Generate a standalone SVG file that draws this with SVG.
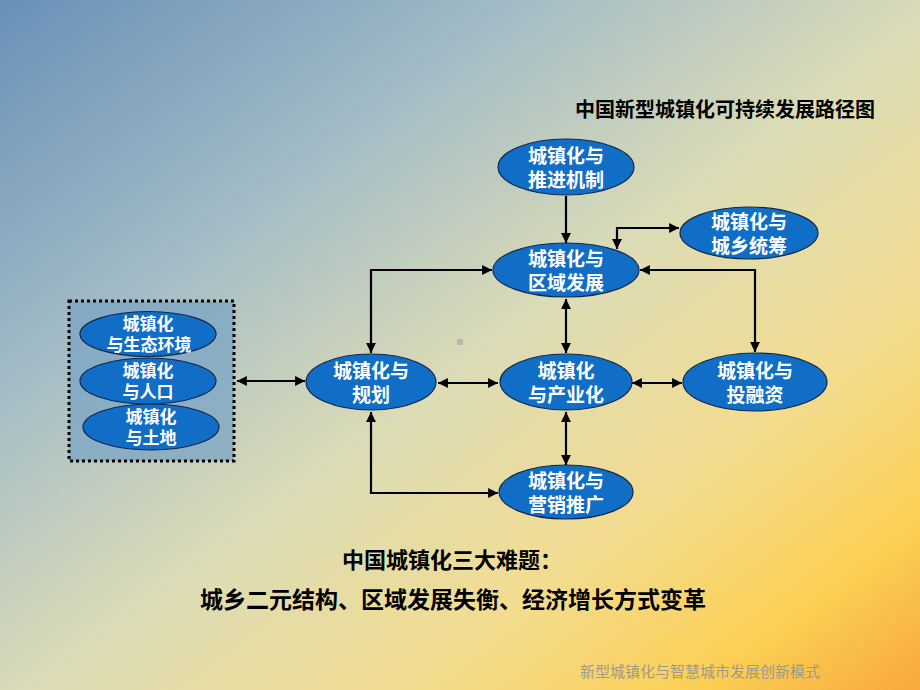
<svg xmlns="http://www.w3.org/2000/svg" width="920" height="690" viewBox="0 0 920 690">
<defs>
<linearGradient id="bg" x1="0" y1="0" x2="1" y2="1">
<stop offset="0" stop-color="#6890b8"/>
<stop offset="0.3" stop-color="#a6bec6"/>
<stop offset="0.52" stop-color="#dcdcb6"/>
<stop offset="0.72" stop-color="#f3dc90"/>
<stop offset="0.88" stop-color="#fbcf52"/>
<stop offset="1" stop-color="#f8a83c"/>
</linearGradient>
<marker id="ah" viewBox="0 0 10 10" refX="10" refY="5" markerWidth="4.5" markerHeight="4.5" orient="auto-start-reverse" markerUnits="strokeWidth">
<path d="M0,0 L10,5 L0,10 z" fill="#000"/>
</marker>
<style>
.nd{fill:#116ec6;stroke:#14264a;stroke-width:1.2}
.nt{font-family:"Noto Sans CJK SC","Noto Sans CJK JP",sans-serif;font-weight:bold;font-size:19px;fill:#fff;text-anchor:middle}
.ns{font-size:17px}
.cn{fill:none;stroke:#000;stroke-width:2.2}
.tt{font-family:"Noto Sans CJK SC","Noto Sans CJK JP",sans-serif;font-weight:bold;fill:#000}
</style>
</defs>
<rect width="920" height="690" fill="url(#bg)"/>
<rect x="457" y="339" width="6" height="6" fill="#b8b8b0"/>

<text class="tt" x="875" y="117" font-size="20" text-anchor="end">中国新型城镇化可持续发展路径图</text>

<g id="group-left">
<rect x="69" y="301" width="165" height="160" fill="#7aa4c4" fill-opacity="0.75" stroke="#000" stroke-width="3" stroke-dasharray="3,3"/>
</g>

<g id="connectors">
<line class="cn" x1="566" y1="196" x2="566" y2="243" marker-end="url(#ah)"/>
<polyline class="cn" points="617,249 617,228 679,228" marker-start="url(#ah)" marker-end="url(#ah)"/>
<polyline class="cn" points="755,352 755,270 640,270" marker-start="url(#ah)" marker-end="url(#ah)"/>
<polyline class="cn" points="371,353 371,270 492,270" marker-start="url(#ah)" marker-end="url(#ah)"/>
<line class="cn" x1="566" y1="299" x2="566" y2="353" marker-start="url(#ah)" marker-end="url(#ah)"/>
<line class="cn" x1="237" y1="381" x2="305" y2="381" marker-start="url(#ah)" marker-end="url(#ah)"/>
<line class="cn" x1="438" y1="383" x2="498" y2="383" marker-start="url(#ah)" marker-end="url(#ah)"/>
<line class="cn" x1="632" y1="383" x2="682" y2="383" marker-start="url(#ah)" marker-end="url(#ah)"/>
<line class="cn" x1="566" y1="412" x2="566" y2="465" marker-start="url(#ah)" marker-end="url(#ah)"/>
<polyline class="cn" points="371,412 371,493 498,493" marker-start="url(#ah)" marker-end="url(#ah)"/>
</g>

<g id="n-env">
<ellipse class="nd" cx="148" cy="334" rx="68" ry="22.5"/>
<text class="nt ns" x="148" y="330">城镇化</text>
<text class="nt ns" x="149" y="351">与生态环境</text>
</g>
<g id="n-pop">
<ellipse class="nd" cx="148" cy="381" rx="68" ry="23"/>
<text class="nt ns" x="148" y="377">城镇化</text>
<text class="nt ns" x="148" y="398">与人口</text>
</g>
<g id="n-land">
<ellipse class="nd" cx="151" cy="427" rx="68" ry="23"/>
<text class="nt ns" x="151" y="423">城镇化</text>
<text class="nt ns" x="151" y="444">与土地</text>
</g>

<g id="n-mech">
<ellipse class="nd" cx="566" cy="167" rx="68" ry="28"/>
<text class="nt" x="566" y="163">城镇化与</text>
<text class="nt" x="566" y="187">推进机制</text>
</g>
<g id="n-urbanrural">
<ellipse class="nd" cx="749" cy="233" rx="69" ry="26"/>
<text class="nt" x="749" y="229">城镇化与</text>
<text class="nt" x="749" y="253">城乡统筹</text>
</g>
<g id="n-region">
<ellipse class="nd" cx="566" cy="270" rx="73" ry="27"/>
<text class="nt" x="566" y="266">城镇化与</text>
<text class="nt" x="566" y="290">区域发展</text>
</g>
<g id="n-plan">
<ellipse class="nd" cx="371" cy="382" rx="65" ry="28"/>
<text class="nt" x="371" y="378">城镇化与</text>
<text class="nt" x="371" y="402">规划</text>
</g>
<g id="n-industry">
<ellipse class="nd" cx="566" cy="382" rx="66" ry="28"/>
<text class="nt" x="566" y="378">城镇化</text>
<text class="nt" x="566" y="402">与产业化</text>
</g>
<g id="n-finance">
<ellipse class="nd" cx="755" cy="382" rx="72" ry="29"/>
<text class="nt" x="755" y="378">城镇化与</text>
<text class="nt" x="755" y="402">投融资</text>
</g>
<g id="n-marketing">
<ellipse class="nd" cx="566" cy="492" rx="67" ry="27"/>
<text class="nt" x="566" y="488">城镇化与</text>
<text class="nt" x="566" y="512">营销推广</text>
</g>

<text class="tt" x="452" y="568" font-size="22" text-anchor="middle">中国城镇化三大难题：</text>
<text class="tt" x="453" y="608" font-size="23" text-anchor="middle">城乡二元结构、区域发展失衡、经济增长方式变革</text>
<text x="700" y="677" font-family="Noto Sans CJK SC,sans-serif" font-size="15" fill="#a09a86" text-anchor="middle">新型城镇化与智慧城市发展创新模式</text>
</svg>
